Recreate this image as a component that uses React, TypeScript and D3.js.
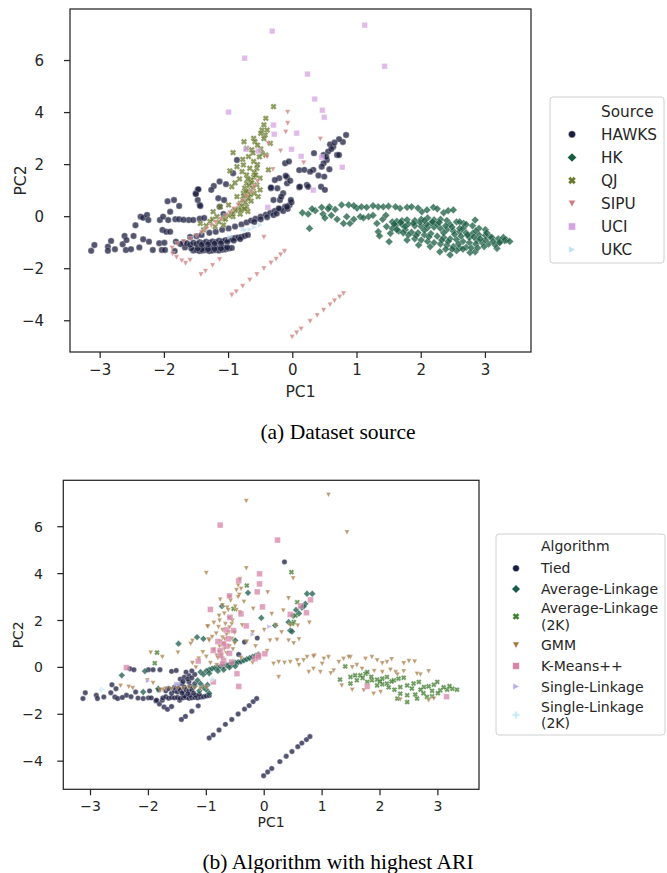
import React from 'react';
import * as d3 from 'd3';

type Pt = [number, number];

// ---------- axes ----------
const X_TICKS = [-3, -2, -1, 0, 1, 2, 3];
const Y_TICKS = [-4, -2, 0, 2, 4, 6];
const X_DOMAIN: [number, number] = [-3.47, 3.71];
const Y_DOMAIN: [number, number] = [-5.2, 7.98];

// ---------- (a) Dataset source ----------
const HAWKS_A: Pt[] = [
  [-3.14,-1.31],[-3.09,-1.09],[-2.88,-1.15],[-2.88,-1.31],[-2.83,-0.93],[-2.77,-1.25],[-2.62,-0.74],[-2.65,-1.06],[-2.59,-0.9],[-2.6,-1.28],
  [-2.52,-1.25],[-2.48,-0.74],[-2.45,-0.33],[-2.39,-1.18],[-2.37,0.0],[-2.33,-0.04],[-2.27,0.07],[-2.25,-0.13],[-2.33,-0.87],[-2.24,-0.96],
  [-2.18,-1.28],[-2.08,-1.02],[-2.07,-0.13],[-2.02,0.0],[-2.03,-0.51],[-1.97,-0.58],[-2.0,-1.0],[-1.91,-0.58],[-1.95,0.59],[-1.85,0.64],
  [-1.91,0.19],[-1.77,0.41],[-1.94,-0.13],[-1.83,-0.1],[-1.77,-0.1],[-1.82,-0.96],[-2.04,-1.28],[-1.99,-1.28],[-1.84,-1.32],[-1.7,-1.0],
  [-1.62,-0.13],[-1.55,-0.13],[-1.51,0.9],[-1.48,1.05],[-1.48,0.64],[-1.45,0.45],
  [-1.55,-1.3],[-1.5,-1.28],[-1.45,-1.32],[-1.4,-1.3],[-1.35,-1.28],[-1.3,-1.32],[-1.25,-1.3],[-1.2,-1.28],[-1.15,-1.3],[-1.1,-1.27],
  [-1.05,-1.25],[-1.0,-1.22],[-0.95,-1.2],[-1.38,-1.22],[-1.28,-1.2],[-1.18,-1.2],[-1.08,-1.18],[-1.42,-1.26],[-1.32,-1.25],[-1.22,-1.24],
  [-1.12,-1.22],[-1.02,-1.18],[-1.48,-1.22],[-1.58,-1.22],[-1.68,-1.18],
  [-1.75,-1.05],[-1.65,-1.02],[-1.6,-1.08],[-1.55,-1.0],[-1.5,-1.05],[-1.45,-0.98],[-1.4,-1.02],[-1.35,-0.96],[-1.3,-1.0],[-1.25,-0.95],
  [-1.2,-0.98],[-1.15,-0.92],[-1.1,-0.95],[-1.05,-0.9],[-1.0,-0.88],[-0.95,-0.85],[-0.9,-0.82],[-0.85,-0.8],[-0.8,-0.78],[-0.75,-0.74],[-0.7,-0.7],
  [-1.42,-1.08],[-1.32,-1.06],[-1.22,-1.04],[-1.12,-1.02],[-1.02,-0.96],[-0.92,-0.92],[-0.82,-0.86],
  [-1.6,-0.78],[-1.5,-0.75],[-1.42,-0.7],[-1.3,-0.62],[-1.2,-0.58],[-1.1,-0.5],[-1.0,-0.45],[-0.9,-0.38],[-0.8,-0.3],[-0.72,-0.22],
  [-0.65,-0.15],[-0.58,-0.08],[-0.5,0.0],[-0.42,0.08],[-0.35,0.15],[-0.28,0.22],[-0.2,0.3],[-0.12,0.38],[-0.05,0.45],[-0.6,-0.2],
  [-0.5,-0.1],[-0.4,-0.02],[-0.3,0.06],[-1.7,-0.12],[-1.45,-0.08],[-1.38,-0.05],[-0.25,0.12],[-0.15,0.22],[-0.08,0.3],[-0.02,0.55],
  [-0.21,1.48],[-0.12,2.05],[-0.06,2.12],[-0.09,1.52],[-0.34,1.09],[-0.24,1.09],[-0.09,1.28],[-0.04,1.38],[-0.15,0.9],[-0.3,0.64],
  [-0.2,0.64],[-0.03,0.64],[-0.09,0.38],[-0.22,0.32],[-0.87,2.18],[-0.93,1.67],[-1.04,1.25],[-1.14,1.35],[-1.23,1.18],[-1.27,1.03],
  [-1.47,1.05],[-1.51,0.87],[-1.44,0.41],[-1.16,0.71],[-1.07,0.64],[-1.14,0.38],[-1.08,0.1],[-0.28,1.41],[-0.34,1.12],[-0.18,0.77],[-0.11,1.57],
  [0.83,3.14],[0.78,2.87],[0.72,2.98],[0.63,2.69],[0.58,2.78],[0.69,2.37],[0.72,2.37],[0.55,2.5],[0.48,2.37],[0.53,2.18],
  [0.48,2.05],[0.33,2.44],[0.45,1.92],[0.57,1.82],[0.4,1.58],[0.49,1.54],[0.22,1.22],[0.1,1.13],[0.1,1.79],[0.18,1.8],
  [0.32,1.8],[0.44,1.15],[0.5,1.03],[0.11,1.15],[0.24,1.15],[0.27,1.73],[0.6,2.6],[0.65,2.85],[0.52,2.3],
];
const HK_A: Pt[] = [
  [0.15,0.15],[0.24,0.1],[0.26,-0.45],[0.35,0.23],[0.45,0.36],[0.47,0.1],[0.57,0.38],[0.66,0.28],[0.69,-0.1],[0.76,0.45],
  [0.87,0.45],[0.79,-0.26],[0.89,-0.26],[0.84,0.0],[1.0,0.33],[1.07,0.38],[1.15,0.36],[1.05,0.0],[1.18,0.0],[1.33,0.38],
  [1.41,0.38],[1.49,0.4],[1.31,-0.26],[1.33,-0.58],[1.35,-0.74],[1.5,-0.96],[1.46,-0.38],[1.67,0.32],[1.78,0.36],[1.85,0.38],
  [2.01,0.19],[2.09,0.26],[2.19,0.36],[2.35,0.15],[2.42,0.23],[2.5,0.26],[2.84,-0.13],[2.66,-0.26],[2.87,-0.9],[3.07,-0.77],
  [3.23,-0.96],[3.33,-0.9],[3.18,-1.22],[2.84,-1.35],[2.76,-1.38],[2.45,-1.47],[2.29,-1.35],[2.14,-1.15],[1.96,-1.09],[1.78,-0.9],[1.52,-0.64],
  [0.5,-0.05],[0.6,0.05],[0.95,-0.1],[1.1,-0.05],[1.25,0.05],[0.55,0.3],[0.3,0.3],
  [1.55,-0.2],[1.62,-0.18],[1.7,-0.15],[1.78,-0.12],[1.9,-0.15],[2.0,-0.1],[2.1,-0.05],[2.2,-0.12],[2.3,-0.1],[2.4,-0.15],
  [2.55,-0.2],[2.6,-0.2],[2.7,-0.3],[2.8,-0.35],[2.9,-0.45],[3.0,-0.5],
  [1.6,-0.35],[1.7,-0.3],[1.8,-0.28],[1.9,-0.35],[2.0,-0.38],[2.1,-0.42],[2.2,-0.4],[2.3,-0.45],[2.4,-0.5],[2.5,-0.55],
  [2.6,-0.58],[2.7,-0.62],[2.8,-0.65],[2.9,-0.7],[3.0,-0.72],[3.1,-0.8],[3.2,-0.85],[3.3,-0.92],[3.38,-0.95],
  [1.65,-0.55],[1.75,-0.5],[1.85,-0.6],[1.95,-0.62],[2.05,-0.7],[2.15,-0.65],[2.25,-0.75],[2.35,-0.8],[2.45,-0.85],[2.55,-0.88],
  [2.65,-0.95],[2.75,-1.0],[2.85,-1.05],[2.95,-1.0],[3.05,-1.05],[3.15,-1.08],
  [1.9,-0.85],[2.0,-0.9],[2.1,-0.95],[2.2,-1.0],[2.3,-1.05],[2.4,-1.1],[2.5,-1.15],[2.6,-1.2],[2.7,-1.18],[2.55,-1.3],[2.65,-1.25],
  [1.55,-0.45],[1.62,-0.5],[2.15,-0.25],[2.25,-0.3],[2.45,-0.3],[2.35,-0.62],[2.6,-0.45],[2.75,-0.8],[3.0,-0.9],[1.8,-0.7],[2.05,-0.52],
  [1.58,-0.28],[1.68,-0.22],[1.75,-0.38],[1.88,-0.25],[1.98,-0.22],[2.08,-0.3],[2.18,-0.2],[2.28,-0.22],[2.38,-0.35],[2.48,-0.4],
  [2.52,-0.68],[2.62,-0.75],[2.72,-0.7],[2.82,-0.78],[2.92,-0.85],[3.02,-0.62],[3.12,-0.95],[3.22,-1.0],[3.28,-0.8],[2.42,-0.95],
  [2.32,-0.9],[2.12,-0.78],[1.92,-0.72],[1.72,-0.62],[2.58,-1.05],[2.48,-1.25],[2.38,-1.25],[2.78,-1.2],[2.88,-1.2],[2.98,-1.15],
  [1.4,-0.1],[1.45,0.05],[0.95,0.42],[1.25,0.42],[1.6,0.38],[1.95,0.33],[2.25,0.3],[2.05,-0.15],[2.65,-0.45],[2.85,-0.55],
];
const QJ_A: Pt[] = [
  [-0.3,4.23],[-0.42,3.78],[-0.45,3.53],[-0.48,3.33],[-0.4,3.33],[-0.43,3.14],[-0.61,3.01],[-0.59,2.88],[-0.35,2.82],[-0.76,2.88],
  [-0.72,2.63],[-0.64,2.57],[-0.93,2.46],[-0.69,2.31],[-0.48,2.44],[-0.42,2.37],[-0.61,2.12],[-0.77,1.99],[-0.87,1.92],[-0.67,1.86],
  [-0.56,1.86],[-0.98,1.76],[-0.79,1.73],[-0.72,1.6],[-0.38,1.8],[-0.61,1.52],[-0.51,1.48],[-0.95,1.15],[-0.72,1.28],[-0.56,1.22],
  [-0.51,1.03],[-0.87,0.77],[-0.77,0.9],[-0.69,0.77],[-0.54,0.77],[-1.13,0.38],[-1.0,0.45],[-0.82,0.51],[-0.72,0.38],[-1.24,0.19],
  [-0.93,0.19],[-0.82,0.1],[-1.18,0.0],[-1.08,-0.06],[-0.93,0.0],[-1.29,-0.19],[-1.44,-0.26],[-1.39,-0.51],[-1.21,-0.38],[-1.08,-0.32],
  [-0.75,1.1],[-0.7,1.0],[-0.78,0.65],[-0.74,0.55],[-0.8,0.4],[-0.85,0.3],[-0.9,0.25],[-0.95,0.1],[-1.0,0.05],[-1.05,-0.1],
  [-0.68,1.2],[-0.65,1.4],[-0.6,1.7],[-0.55,2.0],[-0.52,2.3],[-0.5,2.6],[-0.55,2.75],[-0.45,3.0],[-0.5,3.2],[-0.65,0.6],
  [-0.6,0.9],[-0.83,1.45],[-0.9,1.3],[-0.62,2.45],[-0.78,2.2],[-0.7,0.2],[-1.15,-0.2],[-1.35,-0.35],[-1.25,-0.1],
  [-0.73,0.95],[-0.7,0.7],[-0.66,0.85],[-0.76,0.8],[-0.8,0.25],[-0.75,0.3],[-0.62,1.1],[-0.64,1.3],[-0.7,1.45],[-0.58,1.6],
];
const SIPU_A: Pt[] = [
  [-0.08,4.02],[-0.08,3.59],[-0.11,3.26],[0.43,2.99],[-0.19,2.53],[0.17,2.07],[-0.38,2.81],[-0.4,2.31],[-0.31,1.82],
  [-1.88,-1.2],[-1.8,-1.05],[-1.7,-0.95],[-1.6,-0.85],[-1.5,-0.72],[-1.42,-0.6],[-1.35,-0.48],[-1.27,-0.35],[-1.2,-0.22],[-1.12,-0.1],
  [-1.05,0.02],[-0.98,0.15],[-0.92,0.3],[-0.85,0.45],[-0.78,0.6],[-0.72,0.78],[-0.65,0.95],[-0.6,1.15],[-0.55,1.35],
  [-1.87,-1.43],[-1.81,-1.56],[-1.73,-1.69],[-1.67,-1.79],[-1.6,-1.67],[-0.45,-0.79],
  [-1.43,-2.22],[-1.36,-2.09],[-1.25,-1.87],[-1.14,-1.64],
  [-0.95,-3.01],[-0.88,-2.88],[-0.78,-2.67],[-0.67,-2.43],[-0.56,-2.22],[-0.45,-1.99],[-0.34,-1.78],[-0.26,-1.63],[-0.19,-1.46],[-0.13,-1.33],
  [-0.01,-4.62],[0.06,-4.46],[0.13,-4.31],[0.27,-4.02],[0.38,-3.79],[0.48,-3.59],[0.58,-3.38],[0.65,-3.23],[0.73,-3.08],[0.79,-2.95],
];
const UCI_A: Pt[] = [
  [1.12,7.36],[-0.32,7.13],[-0.75,6.09],[1.43,5.78],[0.23,5.48],[0.34,4.52],[0.46,4.09],[0.49,3.82],[-1.0,4.02],[-0.3,3.52],
  [-0.29,3.17],[0.06,3.21],[-0.02,2.59],[0.13,2.32],[-0.54,2.52],[0.77,1.9],[0.32,1.02],[0.45,2.28],[-0.39,0.36],[-0.73,2.59],
];
const UKC_A: Pt[] = [[-0.77,-0.49],[-0.67,-0.49],[-0.51,-0.32],[-0.98,-0.77],[-0.74,-0.51],[-0.6,-0.4]];

// ---------- (b) Algorithm with highest ARI ----------
const TIED_B: Pt[] = [
  [-1.43,-2.22],[-1.36,-2.09],[-1.25,-1.87],[-1.14,-1.64],
  [-0.95,-3.01],[-0.88,-2.88],[-0.78,-2.67],[-0.67,-2.43],[-0.56,-2.22],[-0.45,-1.99],[-0.34,-1.78],[-0.26,-1.63],[-0.19,-1.46],[-0.13,-1.33],
  [-0.01,-4.62],[0.06,-4.46],[0.13,-4.31],[0.27,-4.02],[0.38,-3.79],[0.48,-3.59],[0.58,-3.38],[0.65,-3.23],[0.73,-3.08],[0.79,-2.95],
  [-1.87,-1.43],[-1.81,-1.56],[-1.73,-1.69],[-1.67,-1.79],[-1.6,-1.67],
  [-3.13,-1.33],[-3.09,-1.08],[-2.9,-1.19],[-2.88,-1.33],[-2.77,-1.26],[-2.63,-0.74],[-2.65,-1.08],[-2.58,-1.26],[-2.53,-1.33],[-2.56,-0.91],
  [-2.38,-1.19],[-2.18,-1.31],[-2.09,-1.33],[-2.0,-1.3],[-1.95,-1.3],[-1.86,-1.4],[-1.76,-1.4],[-1.46,-1.4],[-2.32,-0.06],[-2.25,-0.1],
  [-2.0,-0.1],[-1.92,-0.1],[-1.8,-0.1],[-1.6,-0.17],[-1.52,-0.13],[-2.45,-1.28],[-2.3,-1.25],[-2.22,-1.05],[-1.98,-1.0],[-1.82,-0.96],[-1.7,-1.0],
  [-1.75,-1.3],[-1.7,-1.25],[-1.65,-1.32],[-1.6,-1.28],[-1.55,-1.3],[-1.5,-1.28],[-1.45,-1.32],[-1.4,-1.3],[-1.35,-1.28],[-1.3,-1.32],
  [-1.25,-1.3],[-1.2,-1.28],[-1.15,-1.3],[-1.1,-1.27],[-1.05,-1.25],[-1.0,-1.22],[-0.95,-1.2],[-1.38,-1.22],[-1.28,-1.2],[-1.18,-1.2],
  [-1.6,-1.1],[-1.55,-1.0],[-1.5,-1.05],[-1.45,-0.98],[-1.4,-1.02],[-1.35,-0.96],[-1.3,-1.0],[-1.25,-0.95],[-1.5,-0.75],[-1.42,-0.7],
  [-1.3,-0.62],[-1.45,-0.5],[-1.38,-0.42],[-1.3,-0.35],[-1.2,-0.3],[-1.35,-0.2],[-1.25,-0.15],[-1.4,-0.6],[-1.55,-0.85],[-1.65,-0.9],
  [-1.42,-1.1],[-1.32,-1.12],[-1.22,-1.1],[-1.12,-1.15],[-1.48,-0.9],[-1.38,-0.85],[-1.28,-0.8],[-1.2,-0.7],[-1.32,-0.5],[-1.25,-0.45],
  [-0.34,1.08],[-0.12,1.25],[0.35,4.5],[-0.44,0.55],
];
const AVG_B: Pt[] = [
  [-2.46,-0.34],[-2.09,-1.05],[-1.48,1.01],[-1.16,1.29],[-1.05,1.22],[-2.06,-0.16],[-1.83,-0.91],[-0.73,2.61],[-0.5,1.15],[-0.28,3.18],
  [-0.05,2.11],[0.19,1.79],[0.42,1.93],[0.45,1.57],[0.48,1.53],[0.71,2.71],[0.74,3.14],[0.83,3.14],[0.55,2.45],[0.6,2.3],[0.65,2.55],[0.68,2.6],[0.5,2.2],
  [-1.1,-0.2],[-1.0,-0.15],[-0.95,-0.1],[-0.9,-0.05],[-0.85,-0.02],[-0.8,0.0],[-0.75,0.05],[-0.7,0.05],[-0.65,0.1],[-0.6,0.12],
  [-0.55,0.15],[-0.5,0.2],[-0.45,0.22],[-0.4,0.25],[-0.35,0.3],[-0.3,0.35],[-0.25,0.4],[-0.2,0.45],[-0.15,0.5],[-0.1,0.55],
  [-1.05,-0.3],[-0.95,-0.25],[-0.8,-0.15],[-0.7,-0.1],[-0.6,0.0],[-0.5,0.05],
  [-1.15,-0.55],[-1.1,-0.7],[-1.05,-0.85],[-1.0,-0.95],[-0.95,-1.1],[-1.12,-1.0],[-0.98,-0.75],[-1.2,-0.8],
];
const AVG2K_B: Pt[] = [
  [1.31,-0.52],[1.49,-0.41],[1.57,-0.34],[1.66,-0.34],[1.75,-0.27],[1.78,-0.2],[1.78,-0.62],[1.86,-0.55],[1.95,-0.52],[2.04,-0.48],
  [2.12,-0.41],[2.24,-0.55],[2.32,-0.48],[2.41,-0.44],[1.95,-0.77],[2.04,-0.72],[2.12,-0.69],[2.35,-0.84],[2.47,-0.77],[2.58,-0.69],
  [2.67,-0.62],[2.76,-0.84],[2.84,-0.81],[2.93,-0.74],[2.99,-0.62],[3.04,-0.98],[3.16,-0.95],[3.25,-0.91],[3.33,-0.95],[2.35,-1.12],
  [2.47,-1.19],[2.61,-1.16],[2.3,-1.33],[2.47,-1.48],[2.64,-1.33],[2.81,-1.26],[2.9,-1.23],[1.49,-0.69],[1.4,0.04],[1.7,-0.45],
  [1.85,-0.4],[2.2,-0.6],[2.55,-0.9],[2.7,-0.95],[2.9,-1.0],[3.1,-0.85],[3.2,-0.8],[2.15,-0.85],[2.25,-0.95],[2.0,-0.6],[1.6,-0.55],[2.75,-1.1],[3.0,-1.1],
  [-1.85,0.63],[-1.89,0.18],[0.47,4.06],[-0.3,3.49],[-0.53,2.5],[0.57,2.78],[0.54,2.21],[0.51,1.93],[0.48,1.86],
];
const GMM_B: Pt[] = [
  [-0.31,7.1],[1.11,7.36],[1.43,5.76],[-0.31,4.23],[-0.42,3.77],[0.06,3.2],[0.42,2.95],[0.33,2.43],[0.78,1.91],[-0.19,2.5],
  [0.13,2.28],[0.58,1.79],[-1.0,4.03],[0.5,3.8],
  [-1.96,0.63],[-1.76,0.44],[-2.02,-0.55],[-1.92,-0.67],[-1.75,-0.94],[-2.48,-0.78],[-2.27,-0.88],[-2.34,-0.83],[-1.49,0.63],[-1.27,1.01],
  [-1.24,1.14],[-0.97,1.74],[-0.96,1.2],[-1.06,0.65],
  [-1.8,-0.95],[-1.7,-0.9],[-1.6,-0.92],[-1.5,-0.88],[-1.4,-0.9],[-1.3,-0.85],[-1.2,-0.88],[-1.1,-0.9],[-1.0,-0.85],
  [-0.45,3.5],[-0.48,3.3],[-0.4,3.35],[-0.43,3.1],[-0.6,3.0],[-0.58,2.85],[-0.35,2.8],[-0.76,2.9],[-0.72,2.65],[-0.64,2.55],
  [-0.69,2.3],[-0.48,2.45],[-0.42,2.35],[-0.61,2.1],[-0.77,2.0],[-0.87,1.9],[-0.67,1.85],[-0.56,1.85],[-0.98,1.75],[-0.79,1.72],
  [-0.72,1.6],[-0.38,1.8],[-0.61,1.5],[-0.51,1.48],[-0.95,1.15],[-0.72,1.28],[-0.56,1.22],[-0.51,1.03],[-0.87,0.77],[-0.77,0.9],
  [-0.69,0.77],[-0.54,0.77],[-1.13,0.38],[-1.0,0.45],[-0.82,0.51],[-0.72,0.38],[-1.24,0.19],[-0.93,0.19],[-0.82,0.1],[-1.18,0.0],
  [-0.75,1.1],[-0.7,1.0],[-0.78,0.65],[-0.74,0.55],[-0.8,0.4],[-0.68,1.2],[-0.65,1.4],[-0.6,1.7],[-0.55,2.0],[-0.5,2.6],
  [-0.45,3.0],[-0.65,0.6],[-0.6,0.9],[-0.83,1.45],[-0.9,1.3],[-0.62,2.45],[-0.78,2.2],[-0.3,1.1],[-0.2,1.5],[0.0,1.6],
  [-0.15,0.9],[0.05,0.7],[-0.4,0.4],[-0.2,0.2],
  [0.1,1.15],[0.22,1.18],[0.42,1.15],[0.51,1.03],[0.3,1.5],[0.2,1.8],[0.45,1.8],[0.6,1.2],
  [0.74,0.44],[0.87,0.51],[0.68,0.3],[1.03,0.37],[1.11,0.44],[1.37,0.37],[1.49,0.44],[1.75,0.37],[1.86,0.44],[2.04,0.18],
  [2.12,0.23],[2.41,0.18],[2.5,0.27],[0.85,-0.06],[0.97,-0.2],[1.2,-0.13],[1.52,0.01],[1.69,-0.06],[2.04,-0.2],[2.18,-0.1],
  [2.27,-0.2],[2.41,-0.16],[2.64,-0.27],[2.84,-0.16],[1.72,-0.98],[1.89,-1.12],[2.01,-1.05],[2.84,-1.4],[2.93,-1.33],[2.35,-1.37],
  [1.52,-0.95],[1.34,-0.77],[0.16,0.16],[0.25,0.23],[0.45,0.23],[0.57,0.3],[0.85,0.47],[1.29,0.23],[1.46,0.44],[0.25,-0.41],
  [0.77,-0.2],[1.95,0.3],[2.2,0.35],[2.6,0.25],[2.7,-0.3],[2.3,-0.3],[1.9,-0.15],[1.6,0.1],[1.0,0.15],[0.6,0.1],[0.35,0.2],[1.15,-0.25],
];
const KMEANS_B: Pt[] = [
  [-0.76,6.07],[0.23,5.43],[-0.08,3.99],[-0.08,3.56],[-0.12,3.22],[-0.03,2.58],[-0.44,3.7],[-0.93,2.47],[-0.4,2.28],[-0.31,1.77],
  [-0.6,3.05],[0.8,2.88],[0.73,2.33],[0.63,2.62],[0.45,2.26],[-0.59,2.14],[-0.53,1.57],[-0.62,1.22],[-0.76,0.72],[-0.56,0.23],
  [-0.88,0.72],[-0.44,-0.81],[-0.47,-0.27],[-0.1,0.51],[0.01,0.58],[-2.38,-0.01],[-1.14,0.27],[-0.88,-0.62],[-0.16,0.37],[-0.1,0.44],
  [1.78,-0.81],[3.15,-1.25],[-0.7,0.3],[-0.75,0.5],[-0.65,0.9],[-0.7,1.0],[-0.72,0.15],[-0.6,0.6],[-0.8,1.1],[-0.66,1.6],
];
const SINGLE_B: Pt[] = [[0.09,1.74],[-0.2,1.4],[-1.52,-0.69],[-2.01,-0.58],[-1.48,-0.7]];
const SINGLE2K_B: Pt[] = [[-2.81,-0.95],[-0.9,-0.5]];

// ---------- legend labels / colours ----------
const SOURCE_LABELS = ['HAWKS', 'HK', 'QJ', 'SIPU', 'UCI', 'UKC'];
const SOURCE_COLORS = ['#1b1d3e', '#1a5d42', '#687a2c', '#cd7b7b', '#d3a5e2', '#c2e1f2'];
const ALGO_LABELS = ['Tied', 'Average-Linkage', 'Average-Linkage\n(2K)', 'GMM', 'K-Means++', 'Single-Linkage', 'Single-Linkage\n(2K)'];
const ALGO_COLORS = ['#1a1b40', '#1c5a4c', '#3f7b2d', '#a67a44', '#d683a8', '#b9aef2', '#c9ecf2'];

type MarkerKind = 'circle' | 'diamond' | 'x' | 'vdown' | 'square' | 'vright' | 'plus';

function crossPath(s: number, w: number, angle: number): string {
  const pts: Pt[] = [[-w,-s],[w,-s],[w,-w],[s,-w],[s,w],[w,w],[w,s],[-w,s],[-w,w],[-s,w],[-s,-w],[-w,-w]];
  const c = Math.cos(angle), sn = Math.sin(angle);
  return 'M' + pts.map(([x, y]) => `${(x * c - y * sn).toFixed(2)},${(x * sn + y * c).toFixed(2)}`).join('L') + 'Z';
}

function markerPath(kind: MarkerKind, s: number): string {
  switch (kind) {
    case 'circle': return `M${s},0A${s},${s} 0 1,1 ${-s},0A${s},${s} 0 1,1 ${s},0Z`;
    case 'diamond': return `M0,${-s}L${s},0L0,${s}L${-s},0Z`;
    case 'square': return `M${-s},${-s}H${s}V${s}H${-s}Z`;
    case 'vdown': return `M${-s},${-s * 0.9}L${s},${-s * 0.9}L0,${s}Z`;
    case 'vright': return `M${-s * 0.9},${-s}L${s},0L${-s * 0.9},${s}Z`;
    case 'x': return crossPath(s, s * 0.4, Math.PI / 4);
    case 'plus': return crossPath(s, s * 0.36, 0);
  }
  return '';
}

interface Series { label: string; color: string; marker: MarkerKind; data: Pt[]; size: number; }
interface Box { left: number; top: number; right: number; bottom: number; }

const FONT = 'DejaVu Sans, sans-serif';
const AXIS_COLOR = '#262626';

function Panel({ box, series, tickFont, labelFont, xLabelY, yLabelX, tickLabelY, yTickRight }:
  { box: Box; series: Series[]; tickFont: number; labelFont: number; xLabelY: number; yLabelX: number; tickLabelY: number; yTickRight: number }) {
  const x = d3.scaleLinear().domain(X_DOMAIN).range([box.left, box.right]);
  const y = d3.scaleLinear().domain(Y_DOMAIN).range([box.bottom, box.top]);
  const fmt = (v: number) => (v < 0 ? '\u2212' + Math.abs(v) : String(v));
  return (
    <g>
      {series.map((s, si) => (
        <g key={si} fill={s.color} stroke="#ffffff" strokeWidth={0.35}>
          {s.data.map((d, i) => (
            <path key={i} d={markerPath(s.marker, s.size)} transform={`translate(${x(d[0]).toFixed(2)},${y(d[1]).toFixed(2)})`} opacity={0.75} />
          ))}
        </g>
      ))}
      <rect x={box.left} y={box.top} width={box.right - box.left} height={box.bottom - box.top} fill="none" stroke={AXIS_COLOR} strokeWidth={1.25} />
      {X_TICKS.map(t => (
        <g key={'x' + t}>
          <line x1={x(t)} x2={x(t)} y1={box.bottom} y2={box.bottom + 6} stroke={AXIS_COLOR} strokeWidth={1.25} />
          <text x={x(t)} y={tickLabelY} textAnchor="middle" fontFamily={FONT} fontSize={tickFont} fill={AXIS_COLOR}>{fmt(t)}</text>
        </g>
      ))}
      {Y_TICKS.map(t => (
        <g key={'y' + t}>
          <line x1={box.left - 6} x2={box.left} y1={y(t)} y2={y(t)} stroke={AXIS_COLOR} strokeWidth={1.25} />
          <text x={yTickRight} y={y(t)} dy="0.36em" textAnchor="end" fontFamily={FONT} fontSize={tickFont} fill={AXIS_COLOR}>{fmt(t)}</text>
        </g>
      ))}
      <text x={(box.left + box.right) / 2} y={xLabelY} textAnchor="middle" fontFamily={FONT} fontSize={labelFont} fill={AXIS_COLOR}>PC1</text>
      <text transform={`translate(${yLabelX},${(box.top + box.bottom) / 2}) rotate(-90)`} textAnchor="middle" dy="0.36em" fontFamily={FONT} fontSize={labelFont} fill={AXIS_COLOR}>PC2</text>
    </g>
  );
}

function Legend({ box, title, titleY, textX, markerX, entries, fontSize, lineGap }:
  { box: Box; title: string; titleY: number; textX: number; markerX: number; entries: { label: string; color: string; marker: MarkerKind; y: number; size: number }[]; fontSize: number; lineGap: number }) {
  return (
    <g>
      <rect x={box.left} y={box.top} width={box.right - box.left} height={box.bottom - box.top} rx={3} fill="#ffffff" fillOpacity={0.8} stroke="#d0d0d0" strokeWidth={1} />
      <text x={textX} y={titleY} dy="0.36em" fontFamily={FONT} fontSize={fontSize} fill={AXIS_COLOR}>{title}</text>
      {entries.map((e, i) => {
        const lines = e.label.split('\n');
        const startY = e.y - ((lines.length - 1) * lineGap) / 2;
        return (
          <g key={i}>
            <path d={markerPath(e.marker, e.size)} transform={`translate(${markerX},${e.y})`} fill={e.color} stroke="#ffffff" strokeWidth={0.5} />
            {lines.map((ln, j) => (
              <text key={j} x={textX} y={startY + j * lineGap} dy="0.36em" fontFamily={FONT} fontSize={fontSize} fill={AXIS_COLOR}>{ln}</text>
            ))}
          </g>
        );
      })}
    </g>
  );
}

export default function App() {
  const markersA: MarkerKind[] = ['circle', 'diamond', 'x', 'vdown', 'square', 'vright'];
  const sizesA = [3.2, 3.9, 3.2, 2.7, 2.8, 2.8];
  const dataA = [HAWKS_A, HK_A, QJ_A, SIPU_A, UCI_A, UKC_A];
  const seriesA: Series[] = SOURCE_LABELS.map((l, i) => ({ label: l, color: SOURCE_COLORS[i], marker: markersA[i], data: dataA[i], size: sizesA[i] }));

  const markersB: MarkerKind[] = ['circle', 'diamond', 'x', 'vdown', 'square', 'vright', 'plus'];
  const sizesB = [2.7, 3.4, 2.8, 2.5, 2.9, 2.6, 2.9];
  const dataB = [TIED_B, AVG_B, AVG2K_B, GMM_B, KMEANS_B, SINGLE_B, SINGLE2K_B];
  const seriesB: Series[] = ALGO_LABELS.map((l, i) => ({ label: l, color: ALGO_COLORS[i], marker: markersB[i], data: dataB[i], size: sizesB[i] }));

  const legendAys = [134.3, 157.5, 180.5, 203.5, 226.5, 249.5];
  const legendBys = [568.3, 589, 616.5, 645, 666, 686.5, 715];

  return (
    <svg width={667} height={873} style={{ position: 'absolute', left: 0, top: 0, background: '#ffffff' }}>
      <rect x={0} y={0} width={667} height={873} fill="#ffffff" />
      <Panel box={{ left: 70, top: 9, right: 531, bottom: 352 }} series={seriesA} tickFont={15} labelFont={15.5}
        xLabelY={397} yLabelX={20} tickLabelY={375} yTickRight={44} />
      <Legend box={{ left: 550, top: 97, right: 664, bottom: 263 }} title="Source" titleY={111} textX={601} markerX={572}
        fontSize={15.3} lineGap={16}
        entries={SOURCE_LABELS.map((l, i) => ({ label: l, color: SOURCE_COLORS[i], marker: markersA[i], y: legendAys[i], size: [3.6, 4.6, 4.0, 3.6, 3.6, 3.6][i] }))} />
      <text x={338} y={439} textAnchor="middle" fontFamily="Liberation Serif, serif" fontSize={21.5} fill="#000">(a) Dataset source</text>

      <Panel box={{ left: 63.3, top: 480.3, right: 479, bottom: 789.3 }} series={seriesB} tickFont={14} labelFont={14}
        xLabelY={827} yLabelX={18} tickLabelY={811} yTickRight={43} />
      <Legend box={{ left: 496, top: 534, right: 665, bottom: 735 }} title="Algorithm" titleY={546} textX={541} markerX={516}
        fontSize={14} lineGap={16.5}
        entries={ALGO_LABELS.map((l, i) => ({ label: l, color: ALGO_COLORS[i], marker: markersB[i], y: legendBys[i], size: [3.4, 4.3, 3.6, 3.4, 3.4, 3.4, 3.8][i] }))} />
      <text x={338} y={869} textAnchor="middle" fontFamily="Liberation Serif, serif" fontSize={21.5} fill="#000">(b) Algorithm with highest ARI</text>
    </svg>
  );
}
